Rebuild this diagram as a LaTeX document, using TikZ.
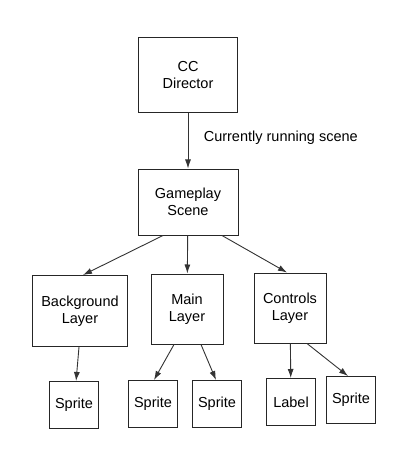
\documentclass[tikz,border=0pt]{standalone}
\usepackage{fontspec}
\setmainfont{Liberation Sans}
\usetikzlibrary{arrows.meta}
\begin{document}
\begin{tikzpicture}[>={Latex[length=9pt, width=6pt]}, x=1pt, y=-1pt,
    box/.style={draw=black!85, line width=1pt, align=center, font=\fontsize{14.5}{17}\selectfont, inner sep=0pt},
    leaf/.style={box, minimum width=49pt, minimum height=47pt},
    link/.style={->, draw=black!80, line width=.9pt}]
        \useasboundingbox (0, 0) rectangle (400, 465);
        \node[box, minimum width=99pt, minimum height=75pt] (dir) at (188, 75){CC\\Director};
        \node[box, minimum width=100pt, minimum height=66pt] (gs) at (188, 202){Gameplay\\Scene};
        \node[box, minimum width=95pt, minimum height=71pt] (bg) at (80, 311){Background\\Layer};
        \node[box, minimum width=72pt, minimum height=70pt] (main) at (187, 309){Main\\Layer};
        \node[box, minimum width=72pt, minimum height=70pt] (ctl) at (290, 308){Controls\\Layer};
        % 叶子节点
        \node[leaf] (bgs) at (74, 405){Sprite};
        \node[leaf] (ms1) at (153, 404){Sprite};
        \node[leaf] (ms2) at (217, 404){Sprite};
        \node[leaf] (lbl) at (291, 402){Label};
        \node[leaf] (cs) at (351, 400){Sprite};
        % 画箭头
        \draw[link] (dir) -- (gs) node[pos=.45, right=12pt, font=\fontsize{14.5}{17}\selectfont]{Currently running scene};
        \draw[link] ([xshift=-25pt]gs.south) -- ([xshift=3pt]bg.north);
        \draw[link] (gs) -- (main);
        \draw[link] ([xshift=34pt]gs.south) -- ([xshift=-3pt]ctl.north);
        \draw[link] ([xshift=-1pt]bg.south) -- (bgs);
        \draw[link] ([xshift=-13pt]main.south) -- ([xshift=1pt]ms1.north);
        \draw[link] ([xshift=14pt]main.south) -- ([xshift=-1pt]ms2.north);
        \draw[link] (ctl) -- (lbl);
        \draw[link] ([xshift=17pt]ctl.south) -- ([xshift=-3pt]cs.north);
    \end{tikzpicture}
\end{document}
